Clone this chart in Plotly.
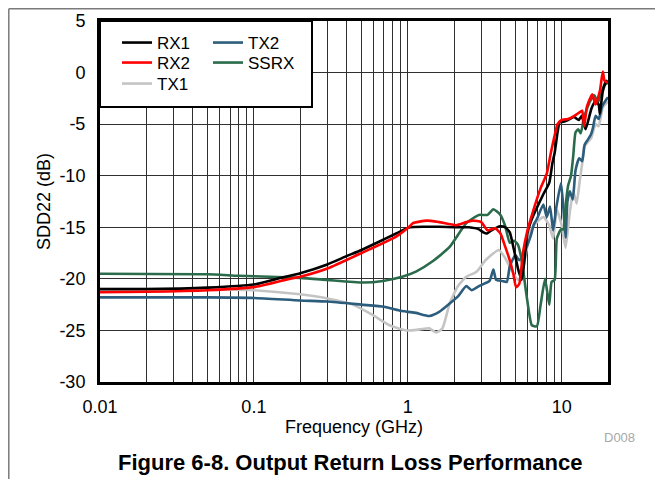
import plotly.graph_objects as go

# frequency (GHz) / SDD22 (dB)
rx1_f = [0.01, 0.02, 0.05, 0.1, 0.133, 0.16, 0.2, 0.3, 0.4, 0.5, 0.65, 0.84, 1.03, 1.3, 1.6,
         2.0, 2.5, 2.9, 3.1, 3.27, 3.5, 3.98, 4.3, 4.6, 4.9, 5.2, 5.5, 5.7, 6.0, 6.4,
         6.9, 7.6, 8.3, 8.7, 9.0, 9.4, 9.7, 10.0, 11.0, 12.0, 12.9, 13.5, 14.3, 15.6, 16.5,
         17.4, 17.7, 18.5, 19.5, 20.0]
rx1_db = [-21.0, -21.0, -20.85, -20.55, -20.1, -19.8, -19.45, -18.6, -17.8, -17.2, -16.4, -15.6, -15.0, -14.95, -14.95,
          -15.0, -15.0, -15.2, -15.5, -15.6, -15.3, -14.9, -15.0, -15.5, -17.2, -19.0, -20.1, -18.5, -15.5, -14.2,
          -13.1, -11.8, -10.7, -8.8, -7.8, -5.8, -4.8, -4.8, -4.6, -4.3, -4.6, -4.2, -5.5, -3.5, -2.8,
          -3.1, -4.0, -1.8, -0.8, -1.0]

rx2_f = [0.01, 0.02, 0.05, 0.1, 0.16, 0.2, 0.3, 0.5, 0.84, 1.03, 1.08, 1.33, 1.6, 2.06, 2.4,
         2.65, 3.0, 3.3, 3.7, 4.0, 4.3, 4.6, 4.85, 5.05, 5.3, 5.6, 5.95, 6.5, 7.3, 8.0,
         8.5, 9.0, 9.4, 10.0, 11.0, 12.1, 13.2, 13.6, 14.0, 14.6, 15.8, 16.6, 17.7, 18.5, 19.0, 20.0]
rx2_db = [-21.3, -21.25, -21.1, -20.8, -20.1, -19.8, -19.0, -17.5, -15.9, -14.9, -14.6, -14.35, -14.5, -14.8, -14.5,
          -14.35, -14.5, -15.3, -15.1, -15.6, -16.9, -18.2, -19.5, -20.8, -20.5, -17.5, -15.5, -13.5, -11.2, -9.8,
          -7.8, -6.1, -5.0, -4.6, -4.5, -4.2, -3.8, -3.7, -5.2, -3.3, -2.1, -3.1, -1.8, 0.1, -0.8, -1.0]

tx1_f = [0.01, 0.05, 0.1, 0.2, 0.3, 0.44, 0.59, 0.76, 0.98, 1.2, 1.38, 1.53, 1.68, 1.87, 2.12,
         2.4, 2.8, 3.2, 3.9, 4.3, 4.7, 5.2, 5.5, 5.75, 6.3, 6.7, 7.6, 8.3, 8.8, 9.3,
         10.0, 10.6, 11.3, 11.9, 12.5, 13.1, 13.6, 14.0, 14.7, 15.6, 16.6, 17.4, 18.5, 20.0]
tx1_db = [-21.0, -21.0, -21.1, -21.5, -21.9, -22.5, -23.5, -24.5, -25.0, -24.9, -24.8, -25.2, -24.8, -22.4, -20.7,
          -19.8, -19.3, -18.2, -17.2, -18.0, -19.1, -20.1, -19.6, -18.2, -15.3, -14.7, -14.0, -14.8, -16.1, -13.3,
          -14.8, -17.0, -13.5, -11.5, -12.7, -10.5, -8.8, -7.2, -6.8, -6.3, -5.0, -5.2, -3.4, -2.8]

tx2_f = [0.01, 0.05, 0.1, 0.2, 0.3, 0.5, 0.7, 0.9, 1.0, 1.13, 1.38, 1.6, 1.87, 2.12, 2.4,
         2.6, 2.9, 3.4, 3.6, 3.75, 4.1, 4.4, 4.6, 5.0, 5.3, 5.8, 6.3, 6.6, 6.9, 7.6,
         8.0, 8.4, 8.8, 9.2, 9.9, 10.3, 10.6, 10.9, 11.3, 11.8, 12.3, 13.0, 13.6, 14.1, 14.8,
         15.5, 16.0, 16.6, 17.4, 18.3, 19.3, 20.0]
tx2_db = [-21.8, -21.8, -21.85, -22.1, -22.2, -22.5, -22.7, -23.1, -23.2, -23.3, -23.6, -23.2, -22.4, -21.7, -20.7,
          -21.1, -20.7, -20.2, -19.1, -20.1, -20.2, -20.3, -18.8, -17.7, -18.2, -17.2, -15.8, -14.7, -14.2, -12.8,
          -14.0, -13.0, -15.3, -13.2, -10.7, -13.5, -16.0, -12.5, -11.5, -12.3, -9.5, -8.3, -8.6, -7.0, -6.5,
          -6.0, -5.3, -4.2, -4.5, -3.3, -2.7, -2.4]

ssrx_f = [0.01, 0.05, 0.08, 0.2, 0.3, 0.51, 0.69, 0.92, 1.13, 1.45, 1.87, 2.4, 2.9, 3.3, 3.6,
          4.0, 4.3, 4.6, 4.9, 5.2, 5.5, 5.9, 6.4, 6.9, 7.3, 7.8, 8.3, 8.6, 9.0, 9.3,
          9.9, 10.3, 10.6, 11.0, 11.5, 11.9, 12.3, 12.8, 13.3, 13.9, 14.6, 15.4, 16.3, 17.2, 18.0,
          19.0, 20.0]
ssrx_db = [-19.5, -19.55, -19.7, -19.9, -20.1, -20.35, -20.2, -19.8, -19.3, -18.3, -16.9, -14.6, -13.8, -13.8, -13.25,
           -13.8, -14.9, -16.5, -16.3, -16.7, -18.2, -21.5, -24.5, -24.6, -22.5, -20.0, -22.5, -20.3, -20.1, -16.1,
           -15.2, -15.2, -13.0, -11.0, -10.0, -8.0, -5.8, -5.5, -5.9, -4.5, -3.5, -2.7, -2.2, -2.9, -2.0,
           -1.2, -1.0]

x_ticks = [0.01, 0.1, 1, 10]
x_ticklabels = ["0.01", "0.1", "1", "10"]
y_ticks = [5, 0, -5, -10, -15, -20, -25, -30]
y_ticklabels = ["5", "0", "-5", "-10", "-15", "-20", "-25", "-30"]

FONT = "Arial, Liberation Sans, Helvetica, sans-serif"

# the page body has an 8px margin, so the figure sits 8px in from the window corner
OFF = 8
W, H = 663 - OFF, 479 - OFF
# plot area in window pixels
L, R, T, B = 100, 608, 21, 382


def px(x):
    return (x - L) / (R - L)


def py(y):
    return (B - y) / (B - T)


series = [
    # name, freqs, values, colour, legend id, legend x, legend row y (window px)
    ("TX1", tx1_f, tx1_db, "#c4c4c4", "legend3", 117, 84),
    ("TX2", tx2_f, tx2_db, "#2c5d7c", "legend4", 208, 43),
    ("SSRX", ssrx_f, ssrx_db, "#2a6b4b", "legend5", 208, 63),
    ("RX1", rx1_f, rx1_db, "#000000", "legend", 117, 43),
    ("RX2", rx2_f, rx2_db, "#ff0000", "legend2", 117, 63),
]

fig = go.Figure()
legends = {}
for name, f, db, color, leg, lx, ly in series:
    fig.add_trace(go.Scatter(
        x=f, y=db, mode="lines", name=name,
        line=dict(color=color, width=2.6, shape="spline", smoothing=0.5),
        legend=leg,
    ))
    legends[leg] = dict(
        x=px(lx), y=py(ly), xanchor="left", yanchor="middle",
        bgcolor="rgba(0,0,0,0)", borderwidth=0,
        font=dict(size=17, color="black", family=FONT),
    )

grid = "#303030"
fig.update_xaxes(
    type="log", range=[-2, 1.30103],
    tickvals=x_ticks, ticktext=x_ticklabels,
    showgrid=True, gridcolor=grid, gridwidth=1,
    minor=dict(dtick="D1", showgrid=True, gridcolor=grid, gridwidth=1, ticks=""),
    showline=True, mirror=True, linewidth=3, linecolor="black",
    ticks="", ticklabelstandoff=6,
    tickfont=dict(size=18, color="black"),
    title=dict(text="Frequency (GHz)", font=dict(size=18, color="black"), standoff=0),
    zeroline=False, automargin=False,
)
fig.update_yaxes(
    range=[-30, 5], tickvals=y_ticks, ticktext=y_ticklabels,
    showgrid=True, gridcolor=grid, gridwidth=1,
    showline=True, mirror=True, linewidth=3, linecolor="black",
    ticks="", ticklabelstandoff=8,
    tickfont=dict(size=18, color="black"),
    title=dict(text="SDD22 (dB)", font=dict(size=18, color="black"), standoff=5),
    zeroline=False, automargin=False,
)

fig.update_layout(
    width=W, height=H,
    margin=dict(l=L - OFF, r=W - (R - OFF), t=T - OFF, b=H - (B - OFF), autoexpand=False),
    paper_bgcolor="white", plot_bgcolor="white",
    font=dict(family=FONT, color="black"),
    showlegend=True,
    shapes=[
        # legend box
        dict(type="rect", xref="paper", yref="paper",
             x0=px(100), x1=px(312), y0=py(107), y1=py(21),
             line=dict(color="black", width=2), fillcolor="white", layer="above"),
        # thin page frame (left and top edges)
        dict(type="line", xref="paper", yref="paper",
             x0=px(OFF + 0.8), x1=px(OFF + 0.8), y0=py(OFF + 0.8), y1=py(479),
             line=dict(color="#7a7a7a", width=1.5)),
        dict(type="line", xref="paper", yref="paper",
             x0=px(OFF + 0.8), x1=px(663), y0=py(OFF + 0.8), y1=py(OFF + 0.8),
             line=dict(color="#7a7a7a", width=1.5)),
    ],
    annotations=[
        dict(text="D008", xref="paper", yref="paper", x=px(619), y=py(437),
             xanchor="center", yanchor="middle",
             showarrow=False, font=dict(size=13, color="#a8a8a8")),
        dict(text="<b>Figure 6-8. Output Return Loss Performance</b>", xref="paper", yref="paper",
             x=px(350), y=py(462), xanchor="center", yanchor="middle",
             showarrow=False, font=dict(size=22, color="black")),
    ],
    **legends,
)

fig.write_html("out.html")
